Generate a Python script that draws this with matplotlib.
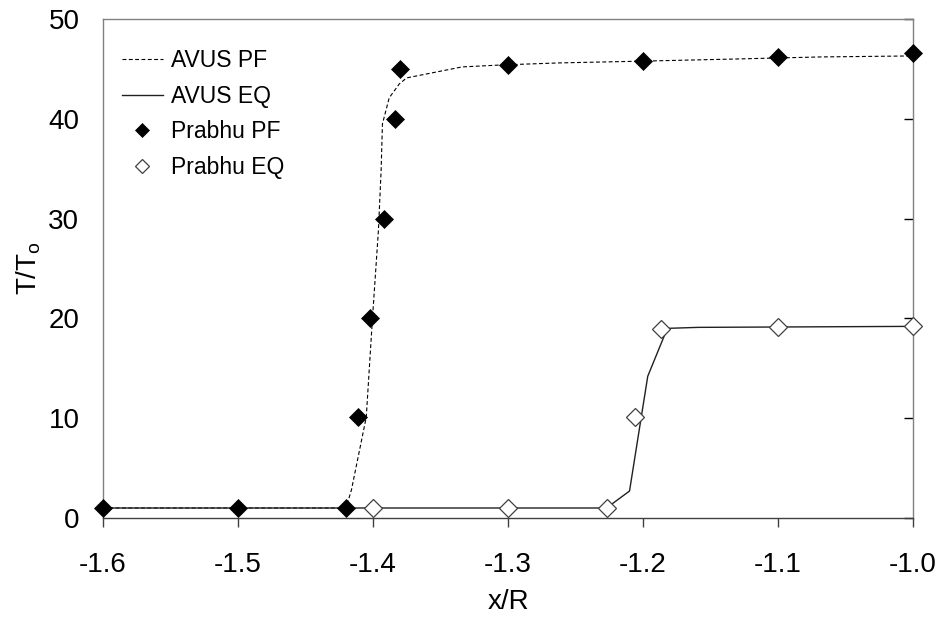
import matplotlib.pyplot as plt

plt.rcParams['font.family'] = ['Liberation Sans', 'DejaVu Sans']
plt.rcParams['mathtext.fontset'] = 'custom'
plt.rcParams['mathtext.rm'] = 'Liberation Sans'

# AVUS solutions (lines)
avus_pf_x = [-1.6, -1.42, -1.416, -1.405, -1.4005, -1.396, -1.394, -1.393, -1.388,
             -1.3805, -1.375, -1.334, -1.304, -1.262, -1.193, -1.129, -1.068, -1.0]
avus_pf_y = [1.0, 1.0, 2.8, 10.1, 19.8, 28.8, 34.8, 39.5, 42.1,
             43.5, 44.1, 45.2, 45.4, 45.6, 45.8, 46.0, 46.2, 46.3]
avus_eq_x = [-1.6, -1.227, -1.210, -1.1965, -1.182, -1.159, -1.0]
avus_eq_y = [1.0, 1.0, 2.7, 14.2, 19.0, 19.1, 19.2]

# Prabhu reference points
prabhu_pf_x = [-1.6, -1.5, -1.42, -1.411, -1.402, -1.392, -1.3835, -1.38, -1.3, -1.2, -1.1, -1.0]
prabhu_pf_y = [1.0, 1.0, 1.0, 10.1, 20.0, 30.0, 40.0, 45.0, 45.4, 45.8, 46.2, 46.6]
prabhu_eq_x = [-1.4, -1.3, -1.227, -1.206, -1.187, -1.1, -1.0]
prabhu_eq_y = [1.0, 1.0, 1.0, 10.1, 18.9, 19.1, 19.2]

x_ticks = [-1.6, -1.5, -1.4, -1.3, -1.2, -1.1, -1.0]
y_ticks = [0, 10, 20, 30, 40, 50]

fig = plt.figure(figsize=(9.44, 6.17), dpi=100)
ax = fig.add_axes([0.1091, 0.1605, 0.8581, 0.8087])

ax.plot(avus_pf_x, avus_pf_y, color='black', lw=0.8, dashes=(3.5, 2.2), label='AVUS PF')
ax.plot(avus_eq_x, avus_eq_y, color='#202020', lw=1.0, label='AVUS EQ')
ax.plot(prabhu_pf_x, prabhu_pf_y, 'D', color='black', ms=9, mec='black', mew=0.5,
        label='Prabhu PF', clip_on=False, zorder=5)
ax.plot(prabhu_eq_x, prabhu_eq_y, 'D', mfc='white', mec='#404040', ms=9, mew=0.9,
        label='Prabhu EQ', clip_on=False, zorder=5)

ax.set_xlim(-1.6, -1.0)
ax.set_ylim(0, 50)
ax.set_xticks(x_ticks)
ax.set_xticklabels(['%.1f' % v for v in x_ticks])
ax.set_yticks(y_ticks)

for side in ['left', 'top', 'right']:
    ax.spines[side].set_color('#808080')
ax.spines['bottom'].set_color('#404040')
for s in ax.spines.values():
    s.set_linewidth(1.0)

ax.tick_params(axis='x', direction='out', length=6.5, width=1, color='#404040',
               labelsize=20, pad=18)
ax.tick_params(axis='y', left=False, right=True, labelleft=True, labelright=False,
               direction='in', length=6.5, width=1, color='black', labelsize=20, pad=17)

ax.set_xlabel('x/R', fontsize=20, labelpad=8)
ax.set_ylabel(r'$\mathregular{T/T_{o}}$', fontsize=20, labelpad=4)

ax.legend(loc='upper left', bbox_to_anchor=(0.023, 0.94), frameon=False, fontsize=16.5,
          handlelength=1.8, handletextpad=0.35, labelspacing=0.55, numpoints=1,
          markerscale=0.75, borderaxespad=0, borderpad=0)

fig.savefig('out.png', dpi=100)
